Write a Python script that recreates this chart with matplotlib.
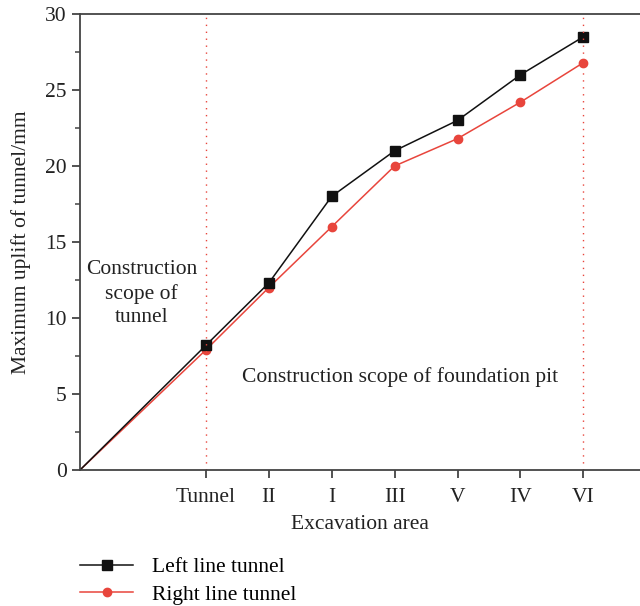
import matplotlib.pyplot as plt
from matplotlib.ticker import MultipleLocator

areas = ['Tunnel', 'II', 'I', 'III', 'V', 'IV', 'VI']
left_line = [8.2, 12.3, 18.0, 21.0, 23.0, 26.0, 28.5]
right_line = [7.9, 12.0, 16.0, 20.0, 21.8, 24.2, 26.8]

plt.rcParams['font.family'] = ['Liberation Serif', 'DejaVu Serif']
plt.rcParams['xtick.labelsize'] = 15.5
plt.rcParams['ytick.labelsize'] = 15.5

fig = plt.figure(figsize=(6.4, 6.06), dpi=100)
ax = fig.add_axes([0.125, 0.2244, 0.875, 0.7525])
ax.spines['right'].set_visible(False)
for s in ['left', 'bottom', 'top']:
    ax.spines[s].set_color('#444444')
    ax.spines[s].set_linewidth(1.3)

pos = list(range(2, 2 + len(areas)))
black = '#111111'
red = '#e8453c'

ax.plot([0] + pos, [0] + right_line, color=red, linewidth=1.1)
ax.plot(pos, right_line, 'o', color=red, markersize=6)
ax.plot([0] + pos, [0] + left_line, color=black, linewidth=1.1)
ax.plot(pos, left_line, 's', color=black, markersize=6.5)

# legend handles
ax.plot([], [], color=black, marker='s', markersize=6.5, linewidth=1.1, label='Left line tunnel')
ax.plot([], [], color=red, marker='o', markersize=6, linewidth=1.1, label='Right line tunnel')

ax.axvline(pos[0], color=red, linestyle=(0, (1, 4)), linewidth=1)
ax.axvline(pos[-1], color=red, linestyle=(0, (1, 4)), linewidth=1)

ax.set_xlim(0, 8.9)
ax.set_ylim(0, 30)
ax.set_xticks(pos)
ax.set_xticklabels(areas)
ax.yaxis.set_major_locator(MultipleLocator(5))
ax.yaxis.set_minor_locator(MultipleLocator(2.5))
ax.tick_params(which='major', direction='out', length=6, width=1.3, color='#444444', labelcolor='#222222')
ax.tick_params(which='minor', direction='out', length=3.5, width=1.1, color='#444444')
ax.tick_params(axis='x', pad=7)

ax.text(0.98, 11.6, 'Construction\nscope of\ntunnel', ha='center', va='center',
        fontsize=15.5, color='#222222', linespacing=1.3)
ax.text(5.08, 6.1, 'Construction scope of foundation pit', ha='center', va='center',
        fontsize=15.5, color='#222222')

ax.set_xlabel('Excavation area', fontsize=15.5, color='#222222', labelpad=6)
ax.set_ylabel('Maximum uplift of tunnel/mm', fontsize=15.5, color='#222222', labelpad=10)

handles, labels = ax.get_legend_handles_labels()
fig.legend(handles, labels, loc='upper left', bbox_to_anchor=(0.112, 0.095),
           frameon=False, fontsize=15.5, handlelength=2.45, handletextpad=0.9,
           labelspacing=0.35, borderaxespad=0)

plt.savefig('out.png', dpi=100)
plt.close(fig)
